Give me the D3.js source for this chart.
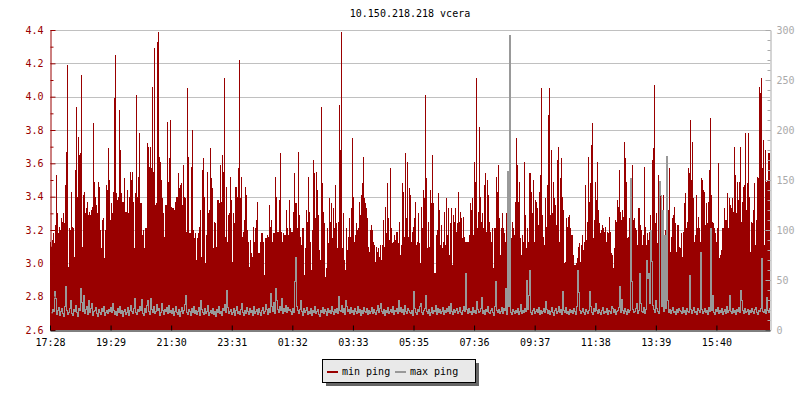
<!DOCTYPE html>
<html><head><meta charset="utf-8">
<script src="https://cdn.jsdelivr.net/npm/d3@7"></script>
<style>
body{margin:0;background:#fff}
svg{display:block}
text{font-family:"DejaVu Sans Mono","Liberation Mono",monospace;font-size:10px}
</style>
</head><body><svg id="c" width="800" height="400"></svg>
<script>
const title = "10.150.218.218 vcera";
const seriesNames = ["min ping", "max ping"];
const startTime = "2000-01-01T17:28:00";
const stepMinutes = 2;
const tickLabels = ["17:28","19:29","21:30","23:31","01:32","03:33","05:35","07:36","09:37","11:38","13:39","15:40"];
const tickStepSeconds = 7270;
const leftTicks = [2.6,2.8,3.0,3.2,3.4,3.6,3.8,4.0,4.2,4.4];
const rightTicks = [0,50,100,150,200,250,300];

const minPing = [
3.13,3.10,3.14,3.18,3.12,3.23,3.53,3.30,3.18,3.22,
3.20,3.27,3.25,3.30,3.24,3.47,3.67,4.19,2.98,3.21,
3.20,3.43,3.22,3.21,3.04,3.56,3.94,3.40,3.76,3.65,
3.66,4.13,3.10,3.41,3.43,3.30,3.33,3.37,3.29,3.31,
3.29,3.32,3.34,3.84,3.49,3.40,3.35,3.30,3.49,3.46,
3.20,3.09,3.26,3.27,3.03,3.20,3.47,3.44,3.69,3.50,
3.26,3.36,3.30,3.43,3.99,4.25,3.42,3.38,3.40,3.92,
3.68,3.42,3.37,3.37,3.51,3.31,3.31,3.44,3.30,3.40,
3.55,3.50,3.55,3.37,3.09,3.42,4.01,3.40,3.52,3.78,
3.36,3.36,3.17,3.20,3.09,3.21,3.21,3.72,3.70,3.58,
3.70,3.57,4.06,3.55,4.29,3.35,3.36,4.33,4.39,3.64,
3.61,3.50,3.39,3.30,3.16,3.35,3.35,3.85,3.49,3.63,
3.86,3.34,3.33,3.33,3.32,3.37,3.40,3.40,3.54,3.45,
3.47,3.48,3.35,3.59,3.40,3.39,3.19,4.05,3.64,3.18,
3.18,3.58,3.80,3.20,3.15,3.18,3.02,3.15,3.18,3.22,
3.32,3.04,3.56,3.63,3.40,3.00,3.17,3.55,3.30,3.32,
3.69,3.51,3.45,3.09,3.25,3.24,3.10,3.38,3.38,3.36,
3.59,3.37,3.65,3.55,4.11,3.16,3.46,3.13,3.29,3.30,
3.52,3.38,3.01,3.30,3.24,3.46,3.46,3.40,3.57,4.22,
3.39,3.52,3.16,3.19,3.26,3.46,3.41,3.20,3.13,2.98,
3.14,3.06,3.04,3.22,3.13,3.21,3.26,3.37,3.06,3.06,
3.13,3.18,3.18,3.13,2.93,3.15,3.15,3.17,3.16,3.35,
3.22,3.26,3.13,3.18,3.18,3.52,3.40,3.19,3.19,3.38,
3.66,3.19,3.13,3.18,3.17,3.17,3.32,3.21,3.17,3.38,
3.21,3.19,3.19,3.31,3.54,3.36,3.36,3.21,3.67,3.29,
3.16,3.11,3.21,3.21,2.93,3.09,3.32,3.25,3.52,3.31,
3.13,2.96,3.20,3.62,3.54,3.27,3.55,3.44,3.29,3.08,
3.02,3.94,3.48,3.31,3.24,2.92,2.97,3.21,3.12,3.39,
3.25,3.36,3.15,3.33,3.21,3.47,3.24,3.09,3.25,3.95,
3.68,4.39,3.09,3.30,3.02,2.96,3.21,3.08,3.16,3.27,
3.16,3.33,3.75,3.40,3.13,3.17,3.24,3.20,3.21,3.37,
3.29,3.41,3.48,3.64,3.39,3.36,3.33,3.27,3.10,3.07,
3.20,3.23,3.20,3.13,3.11,3.01,3.10,3.07,3.09,3.04,
3.11,3.02,3.11,3.26,3.10,3.34,3.18,3.48,3.27,3.14,
3.57,3.21,3.12,3.13,3.17,3.14,3.19,3.19,3.12,3.25,
3.05,3.11,3.48,3.43,3.16,3.66,3.27,3.61,3.16,3.45,
3.41,3.13,3.19,3.22,3.27,3.37,3.11,3.13,3.30,3.12,
3.00,3.34,3.21,3.44,3.39,4.01,3.51,3.09,3.25,3.10,
3.44,3.36,3.65,3.36,2.94,2.94,3.17,3.20,3.42,3.32,
3.11,3.23,3.09,3.13,3.31,3.11,3.39,3.17,3.33,3.05,
3.24,3.33,2.99,3.29,3.25,3.33,3.19,3.24,3.43,3.25,
3.31,3.27,3.15,3.28,3.16,3.13,3.13,3.13,3.13,3.17,
3.36,3.32,3.39,3.17,3.61,3.49,4.11,3.21,3.31,3.82,
3.40,3.25,3.30,3.21,3.47,3.54,3.19,3.50,3.41,3.25,
3.19,3.13,3.21,2.97,3.21,3.21,3.52,3.43,3.59,3.27,
3.05,3.21,3.30,3.21,3.18,3.13,3.30,3.21,3.28,2.97,
3.25,3.15,3.25,3.21,3.17,3.37,3.75,3.59,3.37,3.49,
3.15,3.05,3.17,3.13,3.61,3.29,3.09,3.21,3.13,3.54,
3.54,3.43,3.30,3.50,3.13,3.38,3.37,3.33,3.23,3.43,
3.53,4.05,3.29,3.16,3.11,3.39,3.22,3.47,3.89,4.05,
3.29,3.68,3.30,3.49,3.39,3.35,3.23,3.62,3.70,3.13,
3.51,3.63,3.40,3.32,3.00,3.01,3.27,3.22,3.28,3.29,
3.21,3.17,3.17,3.05,2.99,2.99,3.00,3.03,3.10,3.12,
3.01,3.11,3.17,3.08,3.13,3.47,3.14,3.25,3.64,3.37,
3.48,3.71,3.84,3.15,3.26,3.49,3.38,3.61,3.32,3.24,
3.18,3.20,3.23,3.21,3.19,3.22,3.13,3.19,3.18,3.28,
3.19,3.06,3.05,2.97,3.09,3.26,3.25,3.38,3.34,3.56,
3.31,3.26,3.32,3.28,3.73,3.63,3.49,3.15,3.16,3.27,
3.28,3.33,3.59,3.26,3.27,3.21,3.20,3.11,3.33,3.33,
3.23,3.20,3.11,3.17,3.58,3.22,3.11,3.18,3.14,3.19,
3.29,3.01,3.62,3.69,4.07,3.24,3.30,3.12,3.53,3.40,
3.41,3.22,3.21,3.41,3.17,3.20,3.38,3.19,3.32,3.57,
3.07,3.16,3.27,3.29,3.34,3.24,3.07,3.23,3.23,3.10,
3.09,3.18,3.04,3.19,3.36,3.42,3.21,3.25,3.57,3.54,
3.86,3.50,3.73,3.39,3.13,3.17,3.41,3.21,3.28,3.21,
3.13,3.51,3.50,3.44,3.43,3.23,3.36,3.24,3.37,3.56,
3.87,3.41,3.25,3.24,3.21,3.18,3.13,3.21,3.60,3.03,
3.05,3.08,3.21,3.21,3.33,3.26,3.26,3.42,3.21,3.39,
3.35,3.33,3.39,3.31,3.70,3.53,3.30,3.49,3.38,3.49,
3.70,3.25,3.37,3.46,3.47,3.78,3.32,3.48,3.78,3.40,
3.07,3.25,3.24,3.32,3.48,3.11,3.26,3.52,3.51,4.06,
4.02,4.11,3.57,3.74,3.11,3.68,3.49,3.50,3.66,3.66
];

const maxPing = [
18,17,21,19,39,32,16,20,23,15,
19,22,17,14,24,44,20,16,18,22,
30,17,15,21,19,25,18,14,22,20,
42,28,19,35,17,21,24,16,30,18,
22,27,15,19,20,23,17,14,21,18,
16,22,19,24,15,18,20,17,21,19,
23,18,27,20,16,19,15,22,18,24,
17,20,14,19,21,16,18,23,15,20,
25,19,17,22,32,18,16,21,19,24,
20,31,17,15,22,18,25,30,19,16,
32,21,18,24,17,19,26,20,22,15,
18,27,20,16,21,19,23,17,25,18,
20,17,22,15,19,24,18,16,21,14,
19,23,17,20,26,35,18,16,21,19,
15,22,18,24,17,20,16,19,23,15,
30,21,18,16,22,17,19,25,15,18,
20,17,22,16,19,14,21,18,24,17,
19,15,22,20,26,18,40,23,17,19,
21,16,18,22,15,20,24,17,19,16,
21,27,18,15,20,17,23,19,16,22,
18,20,15,24,17,19,21,16,22,18,
15,20,23,17,19,26,21,16,22,18,
37,24,19,28,17,42,30,21,18,24,
20,32,17,22,19,25,18,23,20,21,
19,16,22,18,49,73,24,20,17,21,
30,19,15,22,18,20,23,16,19,17,
22,15,20,18,24,17,19,21,16,14,
20,18,23,17,21,19,15,22,18,20,
17,24,19,16,21,18,22,17,34,20,
19,25,18,22,16,30,24,19,21,17,
23,18,20,16,22,19,17,24,18,21,
15,20,17,23,19,18,22,16,20,17,
19,23,17,21,18,16,20,25,18,22,
27,19,17,21,15,20,18,23,17,19,
21,18,24,16,20,19,22,17,30,19,
23,18,21,16,25,19,17,22,20,18,
17,20,15,39,22,18,16,21,19,24,
27,18,16,20,22,35,19,17,21,15,
18,23,17,20,19,25,16,22,18,21,
17,19,23,16,20,18,22,19,24,17,
27,19,16,21,18,20,22,17,19,23,
18,16,20,24,19,57,21,17,22,18,
19,16,23,18,20,17,29,21,18,19,
22,33,17,20,16,21,19,24,18,17,
20,22,18,15,24,49,20,18,21,17,
19,23,17,22,20,42,16,159,24,295,
18,16,21,19,17,20,18,22,16,19,
26,17,20,18,22,19,50,21,35,60,
18,16,20,22,17,19,21,18,23,16,
20,17,19,22,18,29,21,17,20,16,
19,23,18,15,20,22,17,19,24,18,
21,16,39,20,18,23,17,19,16,21,
18,20,17,22,19,16,24,60,38,20,
17,19,22,18,16,21,19,17,20,39,
24,18,16,22,19,27,20,17,21,18,
16,20,23,17,19,18,22,16,20,19,
17,24,22,18,21,16,19,20,23,44,
18,31,20,17,22,19,16,21,18,20,
152,49,21,18,19,22,27,17,20,57,
27,19,18,23,17,21,70,52,57,27,
100,69,25,21,18,30,22,19,17,149,
135,24,120,19,95,22,174,30,18,21,
17,20,23,18,19,16,21,18,22,20,
19,17,23,18,20,16,22,19,18,55,
21,17,20,23,18,19,16,22,20,18,
78,21,17,19,22,18,20,16,23,19,
102,20,35,18,16,21,19,23,17,20,
18,22,16,19,21,17,24,18,20,35,
19,17,22,18,20,16,21,19,23,18,
40,30,20,17,22,18,19,21,16,20,
18,22,19,17,21,23,18,16,20,19,
22,72,19,18,21,17,33,20,18,22
];

const colors = {min:"#990000", max:"#999999"};

const svg = d3.select("#c");
const L = 50, R = 770, T = 30, B = 330;
const t0 = new Date(startTime);
const stepMs = stepMinutes * 60000;
const t1 = new Date(+t0 + minPing.length * stepMs);

const x = d3.scaleTime().domain([t0, t1]).range([L, R]);
const yL = d3.scaleLinear().domain([2.6, 4.4]).range([B, T]);
const yR = d3.scaleLinear().domain([0, 300]).range([B, T]);

svg.append("defs").append("clipPath").attr("id","clip")
  .append("rect").attr("x", L).attr("y", T).attr("width", R - L).attr("height", B - T);

// grid
svg.append("g").selectAll("line").data(leftTicks.slice(1)).join("line")
  .attr("x1", L).attr("x2", R)
  .attr("y1", d => Math.round(yL(d)) + 0.5).attr("y2", d => Math.round(yL(d)) + 0.5)
  .attr("stroke", "#c0c0c0").attr("stroke-width", 1);

// area (min ping)
const minData = minPing.map((v, i) => ({t: new Date(+t0 + i * stepMs), v}));
minData.push({t: t1, v: minPing[minPing.length - 1]});
const area = d3.area().curve(d3.curveStepAfter)
  .x(d => x(d.t)).y0(B).y1(d => yL(d.v));
const plot = svg.append("g").attr("clip-path", "url(#clip)");
plot.append("path").datum(minData).attr("d", area).attr("fill", colors.min)
  .attr("shape-rendering", "crispEdges");

// line (max ping)
const maxData = maxPing.map((v, i) => ({t: new Date(+t0 + i * stepMs + stepMs / 2), v}));
const line = d3.line().curve(d3.curveStep).x(d => x(d.t)).y(d => yR(d.v));
plot.append("path").datum(maxData).attr("d", line)
  .attr("fill", "none").attr("stroke", colors.max).attr("stroke-width", 1)
  .attr("shape-rendering", "crispEdges");

// left axis
const gL = svg.append("g").attr("transform", `translate(${L + 0.5},0)`);
gL.call(d3.axisLeft(yL).tickValues(d3.range(2.7, 4.4, 0.2)).tickSizeInner(-3).tickSizeOuter(0).tickFormat(""));
gL.call(g => g.select(".domain").remove());
const gL2 = svg.append("g").attr("transform", `translate(${L + 0.5},0)`);
gL2.call(d3.axisLeft(yL).tickValues(leftTicks).tickSizeInner(-5).tickSizeOuter(0).tickPadding(7).tickFormat(d3.format(".1f")));
[gL, gL2].forEach(g => {
  g.selectAll("line").attr("stroke", colors.min);
  g.selectAll("path").attr("stroke", colors.min);
  g.selectAll("text").attr("fill", colors.min).style("font-size", "10px").attr("font-family", null);
});

// right axis
const gR = svg.append("g").attr("transform", `translate(${R + 0.5},0)`);
gR.call(d3.axisRight(yR).tickValues(d3.range(0, 301, 10)).tickSizeInner(-3).tickSizeOuter(0).tickFormat(""));
gR.call(g => g.select(".domain").remove());
const gR2 = svg.append("g").attr("transform", `translate(${R + 0.5},0)`);
gR2.call(d3.axisRight(yR).tickValues(rightTicks).tickSizeInner(-5).tickSizeOuter(0).tickPadding(6));
[gR, gR2].forEach(g => {
  g.selectAll("line").attr("stroke", "#aaaaaa");
  g.selectAll("path").attr("stroke", "#aaaaaa");
  g.selectAll("text").attr("fill", "#aaaaaa").style("font-size", "10px").attr("font-family", null);
});

// bottom axis
const tickTimes = tickLabels.map((_, k) => new Date(+t0 + k * tickStepSeconds * 1000));
const gB = svg.append("g").attr("transform", `translate(0,${B + 0.5})`);
gB.call(d3.axisBottom(x).tickValues(tickTimes).tickSizeInner(-5).tickSizeOuter(0).tickPadding(8)
  .tickFormat((d, i) => tickLabels[i]));
gB.selectAll("line").attr("stroke", "#000");
gB.select(".domain").attr("stroke", "#000");
gB.selectAll("text").attr("fill", "#000").style("font-size", "10px").attr("font-family", null);

// title
svg.append("text").attr("x", (L + R) / 2).attr("y", 17).attr("text-anchor", "middle")
  .attr("fill", "#000").text(title);

// legend
const lg = svg.append("g");
lg.append("rect").attr("x", 326).attr("y", 363).attr("width", 153).attr("height", 23).attr("fill", "#666");
lg.append("rect").attr("x", 322.5).attr("y", 359.5).attr("width", 153).attr("height", 23)
  .attr("fill", "#e9e9e9").attr("stroke", "#000").attr("stroke-width", 1);
const itemX = [327, 395];
seriesNames.forEach((name, i) => {
  const c = i === 0 ? colors.min : colors.max;
  lg.append("line").attr("x1", itemX[i]).attr("x2", itemX[i] + 11).attr("y1", 372).attr("y2", 372)
    .attr("stroke", c).attr("stroke-width", 2);
  lg.append("text").attr("x", itemX[i] + 15).attr("y", 375).attr("fill", "#000").text(name);
});
</script>
</body></html>
